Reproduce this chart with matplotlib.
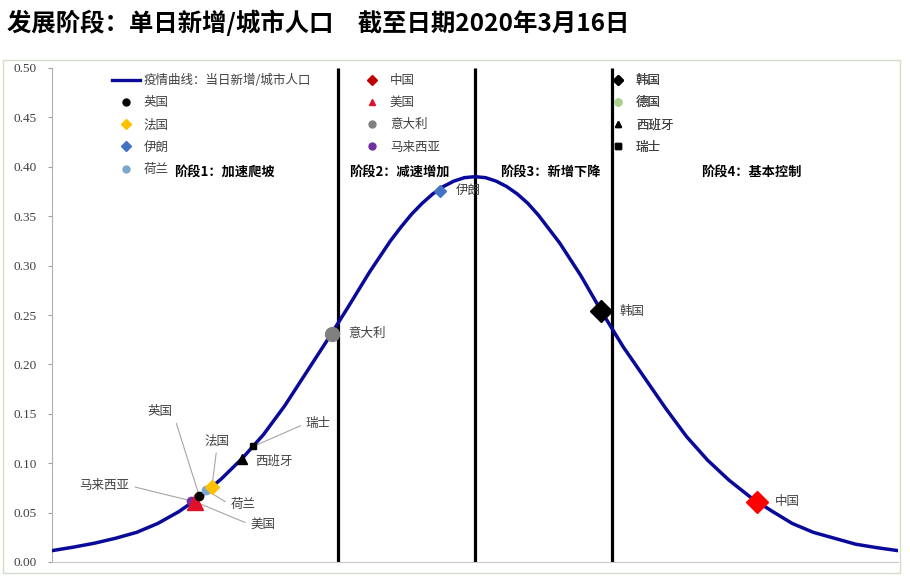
import matplotlib.pyplot as plt
from matplotlib.lines import Line2D
from matplotlib.patches import Rectangle

plt.rcParams['font.family'] = ['Noto Sans CJK SC', 'DejaVu Sans']
plt.rcParams['axes.unicode_minus'] = False

# 疫情曲线 (从图上读出的点)
curve_t = [0.0, 0.25, 0.5, 0.75, 1.0, 1.25, 1.5, 1.75, 2.0, 2.25,
           2.5, 2.75, 3.0, 3.25, 3.5, 3.75, 4.0, 4.125, 4.25, 4.375, 4.5, 4.625, 4.75, 4.875,
           5.0, 5.125, 5.25, 5.375, 5.5, 5.625, 5.75, 5.875, 6.0, 6.25, 6.5, 6.75, 7.0, 7.25,
           7.5, 7.75, 8.0, 8.25, 8.5, 8.75, 9.0, 9.25, 9.5, 9.75, 10.0]
curve_y = [0.0115, 0.015, 0.019, 0.024, 0.030, 0.039, 0.051, 0.066, 0.084, 0.105,
           0.129, 0.158, 0.191, 0.224, 0.258, 0.293, 0.325, 0.339, 0.352, 0.363, 0.3725, 0.380, 0.3855, 0.389,
           0.390, 0.389, 0.3855, 0.380, 0.3725, 0.363, 0.351, 0.337, 0.323, 0.290, 0.253, 0.218, 0.187, 0.156,
           0.127, 0.103, 0.083, 0.066, 0.052, 0.039, 0.030, 0.024, 0.018, 0.0145, 0.0115]

# 国家位置
countries = ['英国', '法国', '伊朗', '荷兰', '中国', '美国', '意大利', '马来西亚',
             '韩国', '德国', '西班牙', '瑞士']
country_t = [1.74, 1.89, 4.59, 1.82, 8.33, 1.69, 3.31, 1.64, 6.49, None, 2.25, 2.38]
country_y = [0.067, 0.076, 0.376, 0.073, 0.061, 0.061, 0.231, 0.062, 0.254, None, 0.104, 0.117]

stage_names = ['阶段1：加速爬坡', '阶段2：减速增加', '阶段3：新增下降', '阶段4：基本控制']
stage_x = [2.04, 4.11, 5.89, 8.27]
stage_bounds = [3.38, 5.0, 6.62]

yticks = [0.0, 0.05, 0.1, 0.15, 0.2, 0.25, 0.3, 0.35, 0.4, 0.45, 0.5]

title = '发展阶段：单日新增/城市人口\u3000截至日期2020年3月16日'

# 样式: marker, 颜色, 图上大小, 标签偏移(像素), 引线起点(None=无引线)
style = {
    '英国': ('o', '#000000', 6, (-39, 84), (1.0, 0.5)),
    '法国': ('D', '#FFC000', 7, (5, 46), (0.5, 0.0)),
    '伊朗': ('D', '#4472C4', 6, (15, 0), None),
    '荷兰': ('o', '#7BA7CC', 6, (37, -15), (0.0, 0.5)),
    '中国': ('D', '#FF0000', 11, (18, 0), None),
    '美国': ('^', '#E0102A', 11, (68, -23), (0.0, 0.5)),
    '意大利': ('o', '#808080', 10, (16, 0), None),
    '马来西亚': ('o', '#7030A0', 6, (-86, 15), (1.0, 0.5)),
    '韩国': ('D', '#000000', 11, (18, 0), None),
    '德国': ('o', '#A9D18E', 6, (0, 0), None),
    '西班牙': ('^', '#000000', 7, (13, -2), None),
    '瑞士': ('s', '#000000', 5, (65, 23), (0.0, 0.5)),
}
legend_color = {'中国': '#C00000'}

fig = plt.figure(figsize=(9.1, 5.82), dpi=100)
fig.patches.append(Rectangle((3 / 910, 9 / 582), 897 / 910, 513 / 582, transform=fig.transFigure,
                             fill=False, edgecolor='#d3dcc8', linewidth=1))
fig.text(7 / 910, 1 - 23 / 582, title, fontsize=17.6, fontweight='bold', ha='left', va='center')

ax = fig.add_axes([52 / 910, 20 / 582, 846 / 910, 494 / 582])
ax.set_xlim(0, 10)
ax.set_ylim(0, 0.5)

ax.vlines(stage_bounds, 0, 0.5, color='black', linewidth=2.3, zorder=2)
ax.plot(curve_t, curve_y, color='#0A0A9A', linewidth=2.5, zorder=3, solid_joinstyle='round')

# 国家标记与标签
draw_order = ['马来西亚', '美国', '英国', '荷兰', '法国', '西班牙', '瑞士', '意大利', '伊朗', '韩国', '中国']
for name in draw_order:
    i = countries.index(name)
    m, c, s, off, rel = style[name]
    ax.plot(country_t[i], country_y[i], marker=m, color=c, markersize=s,
            linestyle='none', zorder=5)
    if rel is not None:
        ax.annotate(name, (country_t[i], country_y[i]), xytext=off, textcoords='offset pixels',
                    fontsize=9, color='#404040', ha='center', va='center',
                    arrowprops=dict(arrowstyle='-', color='#a6a6a6', lw=0.8, relpos=rel,
                                    shrinkA=2, shrinkB=2))
    else:
        ax.annotate(name, (country_t[i], country_y[i]), xytext=off, textcoords='offset pixels',
                    fontsize=9, color='#404040', ha='left', va='center')

for name, x in zip(stage_names, stage_x):
    ax.text(x, 0.394, name, fontsize=9.5, fontweight='bold', ha='center', va='center')

# 图例 (三列)
def handle(name):
    m, c = style[name][0], style[name][1]
    return Line2D([], [], marker=m, color=legend_color.get(name, c), markersize=5, linestyle='none')

cols = [['英国', '法国', '伊朗', '荷兰'],
        ['中国', '美国', '意大利', '马来西亚'],
        ['韩国', '德国', '西班牙', '瑞士']]
anchors = [(60 / 846, 0.988), (306 / 846, 0.988), (552 / 846, 0.988)]
for k, names in enumerate(cols):
    hs = [handle(n) for n in names]
    labels = list(names)
    if k == 0:
        hs = [Line2D([], [], color='#0A0A9A', linewidth=2.4)] + hs
        labels = ['疫情曲线：当日新增/城市人口'] + labels
    leg = ax.legend(hs, labels, loc='upper left', bbox_to_anchor=anchors[k], frameon=False,
                    fontsize=9, borderpad=0, borderaxespad=0, handlelength=2.2, handletextpad=0.35,
                    labelspacing=0.74, numpoints=1, labelcolor='#404040')
    ax.add_artist(leg)

ax.set_xticks([])
ax.set_yticks(yticks)
ax.set_yticklabels(['%.2f' % v for v in yticks], family='Liberation Serif', fontsize=9.5, color='#404040')
ax.tick_params(axis='y', length=3, pad=8, color='#a0a0a0', direction='out')
for sp in ['top', 'right']:
    ax.spines[sp].set_visible(False)
ax.spines['left'].set_color('#b0b0b0')
ax.spines['bottom'].set_color('#c8c8c8')

fig.savefig('out.png', dpi=100)
